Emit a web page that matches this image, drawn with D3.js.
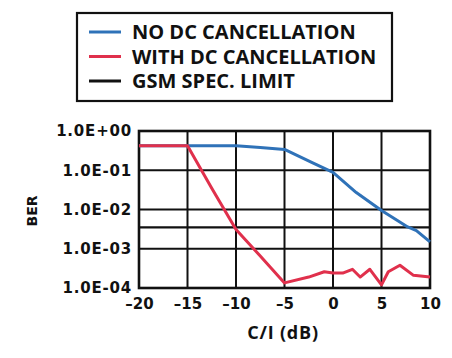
<!DOCTYPE html>
<html><head><meta charset="utf-8">
<script src="https://cdn.jsdelivr.net/npm/d3@7"></script>
<style>body{margin:0;background:#fff}svg{display:block}</style>
</head><body><svg id="c" width="452" height="358"></svg>
<script>
const xTicks = [-20, -15, -10, -5, 0, 5, 10];
const yTicks = [1, 1e-1, 1e-2, 1e-3, 1e-4];
const yTickLabels = ["1.0E+00", "1.0E-01", "1.0E-02", "1.0E-03", "1.0E-04"];
const noDcX = [-20, -15, -10, -7.5, -5, -2.2, 0, 2.4, 5, 6.6, 7.7, 8.6, 10];
const noDcY = [0.42, 0.42, 0.42, 0.38, 0.34, 0.158, 0.088, 0.027, 0.0094, 0.0053, 0.0036, 0.0029, 0.0015];
const withDcX = [-20, -15, -12.5, -10, -7.5, -5, -2.5, -0.9, 0, 1, 2, 2.8, 3.8, 5, 5.7, 6.9, 8.3, 10];
const withDcY = [0.42, 0.42, 0.035, 0.0031, 0.00065, 0.000135, 0.00019, 0.00026, 0.00024, 0.00024, 0.0003, 0.00019, 0.0003, 0.00012, 0.00026, 0.00038, 0.00021, 0.00019];
const specLimit = 0.0035;
const legendLabels = ["NO DC CANCELLATION", "WITH DC CANCELLATION", "GSM SPEC. LIMIT"];
const colors = ["#2f72b8", "#e0304c", "#111"];

const svg = d3.select("#c");
const L = 139, R = 430, T = 131, B = 288;
const x = d3.scaleLinear().domain([-20, 10]).range([L, R]);
const y = d3.scaleLog().domain([1e-4, 1]).range([B, T]);
const font = "'Open Sans', 'DejaVu Sans', sans-serif";
const tfont = "'DejaVu Sans', sans-serif";

// grid
const g = svg.append("g");
g.selectAll(".vg").data(xTicks).join("line")
  .attr("x1", d => x(d)).attr("x2", d => x(d)).attr("y1", T).attr("y2", B)
  .attr("stroke", "#111").attr("stroke-width", 2);
g.selectAll(".hg").data(yTicks).join("line")
  .attr("x1", L).attr("x2", R).attr("y1", d => y(d)).attr("y2", d => y(d))
  .attr("stroke", "#111").attr("stroke-width", 2);
g.append("line").attr("x1", L).attr("x2", R).attr("y1", y(specLimit)).attr("y2", y(specLimit))
  .attr("stroke", colors[2]).attr("stroke-width", 2.2);
g.append("rect").attr("x", L).attr("y", T).attr("width", R - L).attr("height", B - T)
  .attr("fill", "none").attr("stroke", "#111").attr("stroke-width", 2.6);

// axes labels
const xAxis = d3.axisBottom(x).tickValues(xTicks).tickSize(0).tickPadding(10).tickFormat(d => d < 0 ? "\u2013" + Math.abs(d) : d);
const ax = svg.append("g").attr("transform", `translate(0,${B})`).call(xAxis);
ax.select(".domain").remove();
ax.selectAll("text").attr("font-family", tfont).attr("font-weight", "bold").attr("font-size", 15).attr("fill", "#111");

const yAxis = d3.axisLeft(y).tickValues(yTicks).tickSize(0).tickPadding(7).tickFormat((d, i) => yTickLabels[i]);
const ay = svg.append("g").attr("transform", `translate(${L},0)`).call(yAxis);
ay.select(".domain").remove();
ay.selectAll("text").attr("font-family", tfont).attr("font-weight", "bold").attr("font-size", 15)
  .attr("letter-spacing", 0.8).attr("fill", "#111");

svg.append("text").attr("x", 283).attr("y", 339).attr("text-anchor", "middle")
  .attr("font-family", font).attr("font-weight", "bold").attr("font-size", 18).attr("letter-spacing", 0.8)
  .attr("fill", "#111").text("C/I (dB)");
svg.append("text").attr("transform", "translate(37,211) rotate(-90)").attr("text-anchor", "middle")
  .attr("font-family", tfont).attr("font-weight", "bold").attr("font-size", 14).attr("fill", "#111").text("BER");

// curves
const line = d3.line().x(d => x(d[0])).y(d => y(d[1]));
svg.append("path").datum(noDcX.map((v, i) => [v, noDcY[i]])).attr("d", line)
  .attr("fill", "none").attr("stroke", colors[0]).attr("stroke-width", 3).attr("stroke-linejoin", "round");
svg.append("path").datum(withDcX.map((v, i) => [v, withDcY[i]])).attr("d", line)
  .attr("fill", "none").attr("stroke", colors[1]).attr("stroke-width", 3).attr("stroke-linejoin", "round");

// legend
const lg = svg.append("g");
lg.append("rect").attr("x", 77).attr("y", 13).attr("width", 315).attr("height", 88)
  .attr("fill", "#fff").attr("stroke", "#111").attr("stroke-width", 2.2);
legendLabels.forEach((t, i) => {
  const yy = 32 + i * 24.5;
  lg.append("line").attr("x1", 89).attr("x2", 121).attr("y1", yy).attr("y2", yy)
    .attr("stroke", colors[i]).attr("stroke-width", 3);
  lg.append("text").attr("x", 132).attr("y", yy + 7)
    .attr("font-family", font).attr("font-weight", "bold").attr("font-size", 20)
    .attr("letter-spacing", 0).attr("fill", "#111").text(t);
});
</script></body></html>
